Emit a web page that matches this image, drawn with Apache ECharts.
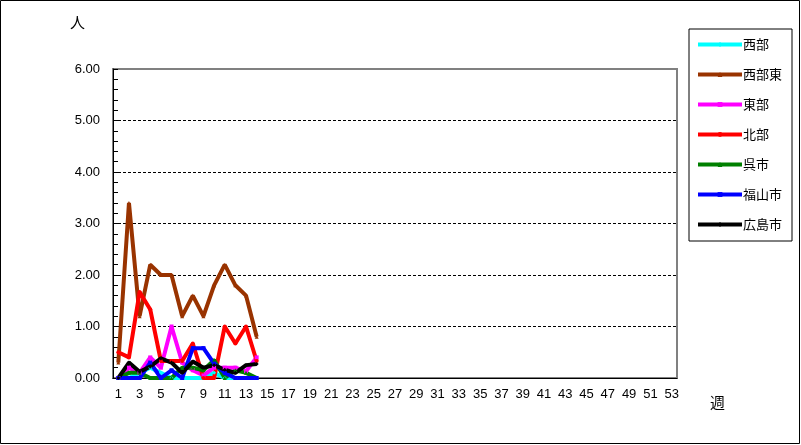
<!DOCTYPE html>
<html>
<head>
<meta charset="utf-8">
<script src="https://cdn.jsdelivr.net/npm/echarts@6/dist/echarts.min.js"></script>
<style>
html,body{margin:0;padding:0;background:#fff;}
#c{width:801px;height:445px;}
</style>
</head>
<body>
<div id="c"></div>
<script>
var weeks = [];
for (var i = 1; i <= 53; i++) weeks.push(String(i));

var seriesNames = ['西部', '西部東', '東部', '北部', '呉市', '福山市', '広島市'];
var seriesColors = ['#00FFFF', '#993300', '#FF00FF', '#FF0000', '#008000', '#0000FF', '#000000'];
var seriesSymbols = ['diamond', 'triangle', 'rect', 'circle', 'triangle', 'rect', 'diamond'];

var nishi      = [0, 0, 0.1, 0.2, 0.1, 0, 0, 0, 0, 0.1, 0, 0, 0, 0];
var nishiHigashi = [0.3, 3.4, 1.2, 2.2, 2.0, 2.0, 1.2, 1.6, 1.2, 1.8, 2.2, 1.8, 1.6, 0.8];
var higashi    = [0, 0.2, 0.1, 0.4, 0.2, 1.0, 0.3, 0.15, 0.05, 0.2, 0.2, 0.2, 0.13, 0.4];
var kita       = [0.5, 0.4, 1.67, 1.33, 0.33, 0.33, 0.33, 0.67, 0, 0, 1.0, 0.67, 1.0, 0.33];
var kure       = [0, 0.1, 0.1, 0, 0, 0, 0.2, 0.2, 0.15, 0.35, 0, 0.15, 0.1, 0];
var fukuyama   = [0, 0, 0, 0.3, 0, 0.15, 0, 0.58, 0.58, 0.28, 0.1, 0, 0, 0];
var hiroshima  = [0, 0.3, 0.12, 0.22, 0.38, 0.3, 0.1, 0.32, 0.2, 0.25, 0.16, 0.1, 0.25, 0.27];

var yTicks = [0, 1, 2, 3, 4, 5, 6];

var allData = [nishi, nishiHigashi, higashi, kita, kure, fukuyama, hiroshima];

var font = 'Liberation Sans, Arial, sans-serif';
var cjk = 'Noto Sans CJK JP, sans-serif';

var chart = echarts.init(document.getElementById('c'));
var series = seriesNames.map(function (n, i) {
  return {
    name: n,
    type: 'line',
    data: allData[i],
    symbol: seriesSymbols[i],
    symbolSize: 4,
    showAllSymbol: true,
    itemStyle: { color: seriesColors[i] },
    lineStyle: { color: seriesColors[i], width: 4 },
    animation: false
  };
});

chart.setOption({
  animation: false,
  backgroundColor: '#fff',
  grid: {
    left: 113, right: 124, top: 69, bottom: 67,
    show: true, borderColor: '#808080', borderWidth: 2, backgroundColor: '#fff'
  },
  legend: {
    orient: 'vertical',
    left: 689, top: 29,
    padding: [9, 10, 10, 7],
    borderColor: '#000', borderWidth: 1,
    itemWidth: 44, itemHeight: 6, itemGap: 17,
    lineStyle: { width: 4 },
    textStyle: { fontFamily: cjk, fontSize: 13, color: '#000', padding: [0, 0, 0, -4] },
    data: seriesNames
  },
  xAxis: {
    type: 'category',
    data: weeks,
    boundaryGap: true,
    axisLine: { lineStyle: { color: '#000', width: 1 } },
    axisTick: { inside: true, length: 5, interval: 0, lineStyle: { color: '#000' } },
    axisLabel: { interval: 1, fontFamily: font, fontSize: 13, color: '#000', margin: 10 },
    splitLine: { show: false }
  },
  yAxis: {
    type: 'value',
    min: yTicks[0], max: yTicks[yTicks.length - 1], interval: 1,
    axisLine: { show: true, lineStyle: { color: '#000', width: 1 } },
    axisTick: { show: true, inside: true, length: 5, lineStyle: { color: '#000' } },
    minorTick: { show: true, splitNumber: 5, length: 5, lineStyle: { color: '#000' } },
    axisLabel: {
      fontFamily: font, fontSize: 13, color: '#000', margin: 13,
      formatter: function (v) { return v.toFixed(2); }
    },
    splitLine: {
      show: true, showMinLine: false, showMaxLine: false,
      lineStyle: { color: '#000', type: [3, 2], width: 1 }
    }
  },
  graphic: [
    { type: 'rect', shape: { x: 0.5, y: 0.5, width: 799, height: 443 },
      style: { fill: 'none', stroke: '#000', lineWidth: 1 }, silent: true, z: 100 },
    { type: 'text', left: 70, top: 15,
      style: { text: '人', font: '15px ' + cjk, fill: '#000' } },
    { type: 'text', left: 710, top: 395,
      style: { text: '週', font: '15px ' + cjk, fill: '#000' } }
  ],
  series: series
});
</script>
</body>
</html>
